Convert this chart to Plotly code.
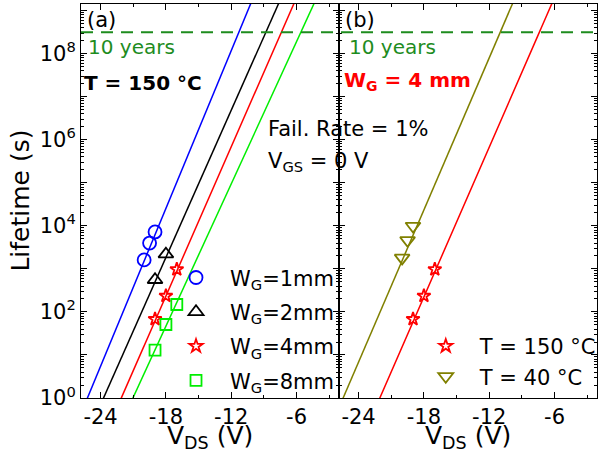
import numpy as np
import plotly.graph_objects as go

# ---- measured failure times (panel a: T = 150 °C, different gate widths) ----
v_w1 = [-20.0, -19.5, -19.0]
t_w1 = [1620, 3980, 7240]
v_w2 = [-19.0, -18.0]
t_w2 = [560, 2200]
v_w4 = [-19.0, -18.0, -17.0]
t_w4 = [68, 236, 975]
v_w8 = [-19.0, -18.0, -17.0]
t_w8 = [13, 51, 149]

# ---- panel b: W_G = 4 mm at two temperatures ----
v_t150 = [-19.0, -18.0, -17.0]
t_t150 = [68, 236, 975]
v_t40 = [-20.0, -19.5, -19.0]
t_t40 = [1800, 4600, 9900]

# ---- extrapolation fits: log10(t) = slope * (V - v0) ----
fit_v0_a = [-25.21, -23.73, -22.1, -21.03]      # W_G = 1, 2, 4, 8 mm
fit_slope_a = [0.611, 0.570, 0.578, 0.551]
fit_v0_b = [-22.05, -25.42]                     # T = 150 °C, 40 °C
fit_slope_b = [0.580, 0.589]

ten_years_s = 10 * 365.25 * 24 * 3600

x_range = [-25.8, -2.1]
y_range = [0, 9.156]
x_major = [-24, -18, -12, -6]
x_minor = [-21, -15, -9, -3]

blue, black, red, green, olive = "#0000FF", "#000000", "#FF0000", "#00EE00", "#808000"
dgreen = "#1E8C1E"
FONT = "DejaVu Sans, Arial, sans-serif"

fig = go.Figure()

v_line = np.linspace(-27, -1, 400)


def fit_curve(v0, m):
    t = 10 ** (m * (v_line - v0))
    keep = (t >= 0.3) & (t <= 10 ** 9.8)
    return v_line[keep], t[keep]


# panel (a) fit lines
for v0, m, c in zip(fit_v0_a, fit_slope_a, [blue, black, red, green]):
    xv, yv = fit_curve(v0, m)
    fig.add_trace(go.Scatter(x=xv, y=yv, mode="lines", line=dict(color=c, width=1.5),
                             showlegend=False, hoverinfo="skip", xaxis="x", yaxis="y"))

# panel (a) data points
sym_a = [("circle-open", blue, v_w1, t_w1, "W<sub>G</sub>=1mm", 13),
         ("triangle-up-open", black, v_w2, t_w2, "W<sub>G</sub>=2mm", 13),
         ("star-open", red, v_w4, t_w4, "W<sub>G</sub>=4mm", 10),
         ("square-open", green, v_w8, t_w8, "W<sub>G</sub>=8mm", 11)]
for i, (sym, c, xv, yv, name, sz) in enumerate(sym_a):
    fig.add_trace(go.Scatter(x=xv, y=yv, mode="markers", name=name, legendgroup=f"a{i}",
                             marker=dict(symbol=sym, size=sz, color=c, line=dict(color=c, width=1.8)),
                             xaxis="x", yaxis="y", legend="legend"))

# panel (b) fit lines
for v0, m, c in zip(fit_v0_b, fit_slope_b, [red, olive]):
    xv, yv = fit_curve(v0, m)
    fig.add_trace(go.Scatter(x=xv, y=yv, mode="lines", line=dict(color=c, width=1.5),
                             showlegend=False, hoverinfo="skip", xaxis="x2", yaxis="y2"))

sym_b = [("star-open", red, v_t150, t_t150, "T = 150 °C", 10),
         ("triangle-down-open", olive, v_t40, t_t40, "T = 40 °C", 13)]
for i, (sym, c, xv, yv, name, sz) in enumerate(sym_b):
    fig.add_trace(go.Scatter(x=xv, y=yv, mode="markers", name=name, legendgroup=f"b{i}",
                             marker=dict(symbol=sym, size=sz, color=c, line=dict(color=c, width=1.8)),
                             xaxis="x2", yaxis="y2", legend="legend2"))

# axes
decades = list(range(0, 10))
ytickvals = [10 ** d for d in decades]
yticktext = [f"10<sup>{d}</sup>" if d % 2 == 0 else "" for d in decades]
yminor = [k * 10 ** d for d in range(0, 10) for k in range(2, 10)]

xaxis_common = dict(range=x_range, tickvals=x_major, ticktext=[f"{v:d}" for v in x_major],
                    ticks="inside", ticklen=6, tickwidth=1, tickcolor="black",
                    showline=True, linecolor="black", linewidth=1,
                    mirror="allticks", showgrid=False, zeroline=False,
                    minor=dict(tickvals=x_minor, ticks="inside", ticklen=3, tickcolor="black"),
                    tickfont=dict(family=FONT, size=21, color="black"))
yaxis_common = dict(type="log", range=y_range, tickvals=ytickvals, ticktext=yticktext,
                    ticks="inside", ticklen=6, tickwidth=1, tickcolor="black",
                    showline=True, linecolor="black", linewidth=1, mirror="allticks",
                    showgrid=False, zeroline=False,
                    minor=dict(tickvals=yminor, ticks="inside", ticklen=3, tickcolor="black"),
                    tickfont=dict(family=FONT, size=21, color="black"))

legend_font = dict(family=FONT, size=21, color="black")
fig.update_layout(
    width=599, height=458,
    margin=dict(l=81, r=2, t=4, b=60, autoexpand=False),
    plot_bgcolor="white", paper_bgcolor="white",
    font=dict(family=FONT, color="black"),
    xaxis=dict(domain=[0, 0.5], anchor="y", **xaxis_common),
    xaxis2=dict(domain=[0.5, 1], anchor="y2", **xaxis_common),
    yaxis=dict(domain=[0, 1], anchor="x", **yaxis_common),
    yaxis2=dict(domain=[0, 1], anchor="x2", showticklabels=False, **yaxis_common),
    legend=dict(x=0.157, y=0.357, xanchor="left", yanchor="top", bgcolor="rgba(0,0,0,0)",
                font=legend_font, itemwidth=58, tracegroupgap=4),
    legend2=dict(x=0.641, y=0.183, xanchor="left", yanchor="top", bgcolor="rgba(0,0,0,0)",
                 font=legend_font, itemwidth=58, tracegroupgap=0),
)

# 10-year lifetime target
fig.add_shape(type="line", xref="paper", yref="y", x0=0, x1=1, y0=ten_years_s, y1=ten_years_s,
              line=dict(color=dgreen, width=2, dash="12px,8px"))

# axis titles
title_font = dict(family=FONT, size=25, color="black")
fig.add_annotation(x=-0.119, y=0.5, xref="paper", yref="paper", text="Lifetime (s)",
                   textangle=-90, showarrow=False, xanchor="center", yanchor="middle",
                   font=title_font)
for xc in (0.25, 0.75):
    fig.add_annotation(x=xc, y=-0.098, xref="paper", yref="paper", text="V<sub>DS</sub> (V)",
                       showarrow=False, xanchor="center", yanchor="middle", font=title_font)

ann = [
    dict(x=0.008, y=0.995, text="(a)", color="black", size=21),
    dict(x=0.010, y=0.926, text="10 years", color=dgreen, size=20),
    dict(x=0.002, y=0.834, text="<b>T = 150 °C</b>", color="black", size=20),
    dict(x=0.358, y=0.718, text="Fail. Rate = 1%", color="black", size=21),
    dict(x=0.358, y=0.638, text="V<sub>GS</sub> = 0 V", color="black", size=21),
    dict(x=0.508, y=0.995, text="(b)", color="black", size=21),
    dict(x=0.516, y=0.926, text="10 years", color=dgreen, size=20),
    dict(x=0.506, y=0.843, text="<b>W<sub>G</sub> = 4 mm</b>", color="red", size=20),
]
for a in ann:
    fig.add_annotation(x=a["x"], y=a["y"], xref="paper", yref="paper", text=a["text"],
                       showarrow=False, xanchor="left", yanchor="top",
                       font=dict(family=FONT, size=a["size"], color=a["color"]))

fig.write_html("out.html")
